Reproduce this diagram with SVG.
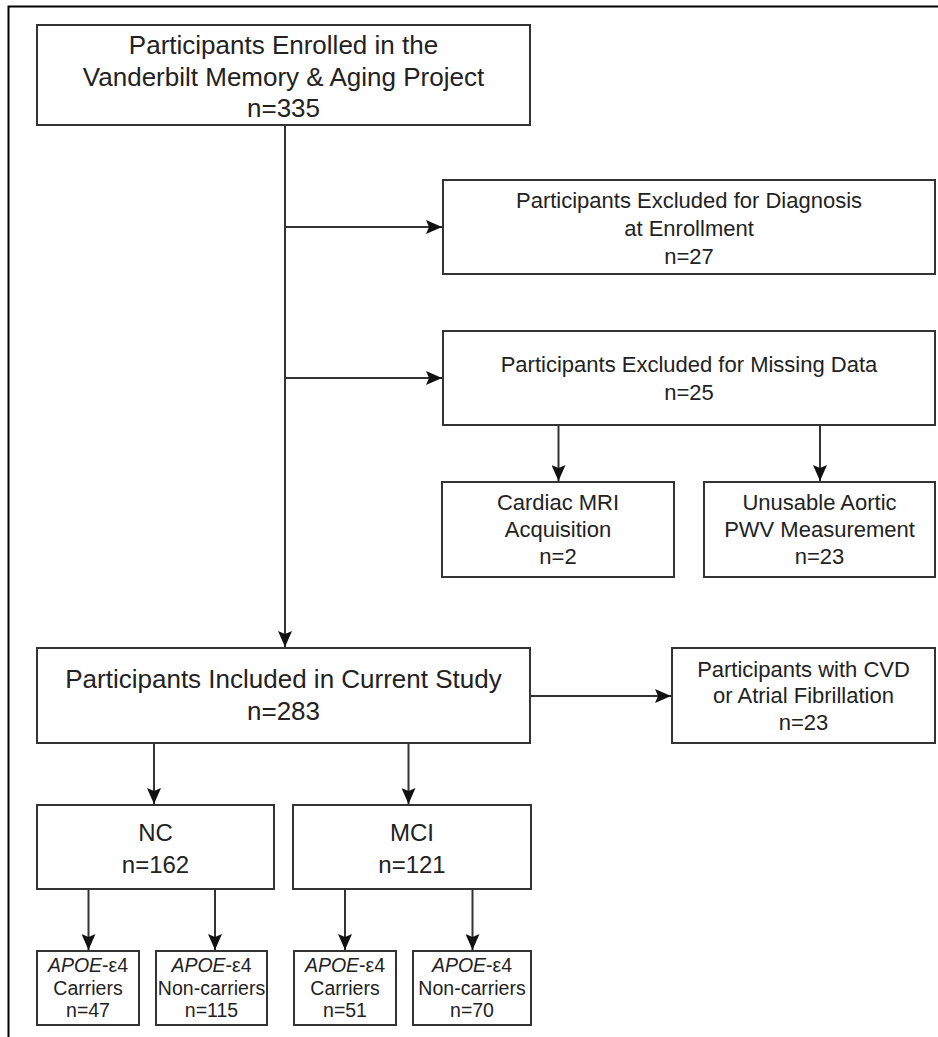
<svg xmlns="http://www.w3.org/2000/svg" width="938" height="1037" viewBox="0 0 938 1037">
<style>
.box{fill:#fff;stroke:#333;stroke-width:2}
.ln{fill:none;stroke:#333;stroke-width:2}
text{font-family:"Liberation Sans",Arial,sans-serif;fill:#222;text-anchor:middle}
.t26{font-size:26px}
.t24{font-size:24px}
.t22{font-size:22px}
.t19{font-size:19.5px}
</style>
<defs>
<marker id="ah" markerUnits="userSpaceOnUse" markerWidth="16" markerHeight="14" refX="16" refY="7" orient="auto">
<path d="M0,0 L16,7 L0,14 L3,7 z" fill="#111"/>
</marker>
</defs>
<rect width="938" height="1037" fill="#fff"/>
<path d="M8.5,1037 V6.5 H938" fill="none" stroke="#000" stroke-width="2"/>
<g id="connectors">
<path class="ln" d="M285,125 V647" marker-end="url(#ah)"/>
<path class="ln" d="M285,227 H442" marker-end="url(#ah)"/>
<path class="ln" d="M285,378 H442" marker-end="url(#ah)"/>
<path class="ln" d="M558.5,425 V481" marker-end="url(#ah)"/>
<path class="ln" d="M820,425 V481" marker-end="url(#ah)"/>
<path class="ln" d="M530,696 H671" marker-end="url(#ah)"/>
<path class="ln" d="M154,743 V804" marker-end="url(#ah)"/>
<path class="ln" d="M408.5,743 V804" marker-end="url(#ah)"/>
<path class="ln" d="M88.5,889 V950" marker-end="url(#ah)"/>
<path class="ln" d="M215,889 V950" marker-end="url(#ah)"/>
<path class="ln" d="M345,889 V950" marker-end="url(#ah)"/>
<path class="ln" d="M472.5,889 V950" marker-end="url(#ah)"/>
</g>
<g id="enrolled">
<rect class="box" x="37" y="25" width="493" height="100"/>
<text class="t26" x="283.5" y="54">Participants Enrolled in the</text>
<text class="t26" x="283.5" y="86">Vanderbilt Memory &amp; Aging Project</text>
<text class="t26" x="283.5" y="117">n=335</text>
</g>
<g id="excl-diagnosis">
<rect class="box" x="443" y="180" width="492" height="94"/>
<text class="t22" x="689" y="208">Participants Excluded for Diagnosis</text>
<text class="t22" x="689" y="236">at Enrollment</text>
<text class="t22" x="689" y="264">n=27</text>
</g>
<g id="excl-missing">
<rect class="box" x="443" y="331" width="492" height="94"/>
<text class="t22" x="689" y="372">Participants Excluded for Missing Data</text>
<text class="t22" x="689" y="400">n=25</text>
</g>
<g id="cardiac">
<rect class="box" x="442" y="482" width="232" height="95"/>
<text class="t22" x="558" y="510">Cardiac MRI</text>
<text class="t22" x="558" y="537">Acquisition</text>
<text class="t22" x="558" y="564">n=2</text>
</g>
<g id="unusable">
<rect class="box" x="704" y="482" width="231" height="95"/>
<text class="t22" x="819.5" y="510">Unusable Aortic</text>
<text class="t22" x="819.5" y="537">PWV Measurement</text>
<text class="t22" x="819.5" y="564">n=23</text>
</g>
<g id="included">
<rect class="box" x="37" y="648" width="493" height="95"/>
<text class="t26" x="283.5" y="688">Participants Included in Current Study</text>
<text class="t26" x="283.5" y="720">n=283</text>
</g>
<g id="cvd">
<rect class="box" x="672" y="648" width="263" height="95"/>
<text class="t22" x="803.5" y="677">Participants with CVD</text>
<text class="t22" x="803.5" y="703">or Atrial Fibrillation</text>
<text class="t22" x="803.5" y="730">n=23</text>
</g>
<g id="nc">
<rect class="box" x="37" y="805" width="237" height="84"/>
<text class="t24" x="155.5" y="841">NC</text>
<text class="t24" x="155.5" y="873">n=162</text>
</g>
<g id="mci">
<rect class="box" x="293" y="805" width="238" height="84"/>
<text class="t24" x="412" y="841">MCI</text>
<text class="t24" x="412" y="873">n=121</text>
</g>
<g id="nc-carriers">
<rect class="box" x="37" y="951" width="102" height="74"/>
<text class="t19" x="88" y="972"><tspan font-style="italic">APOE</tspan>-ε4</text>
<text class="t19" x="88" y="995">Carriers</text>
<text class="t19" x="88" y="1017">n=47</text>
</g>
<g id="nc-noncarriers">
<rect class="box" x="156" y="951" width="111" height="74"/>
<text class="t19" x="211.5" y="972"><tspan font-style="italic">APOE</tspan>-ε4</text>
<text class="t19" x="211.5" y="995">Non-carriers</text>
<text class="t19" x="211.5" y="1017">n=115</text>
</g>
<g id="mci-carriers">
<rect class="box" x="294" y="951" width="102" height="74"/>
<text class="t19" x="345" y="972"><tspan font-style="italic">APOE</tspan>-ε4</text>
<text class="t19" x="345" y="995">Carriers</text>
<text class="t19" x="345" y="1017">n=51</text>
</g>
<g id="mci-noncarriers">
<rect class="box" x="413" y="951" width="118" height="74"/>
<text class="t19" x="472" y="972"><tspan font-style="italic">APOE</tspan>-ε4</text>
<text class="t19" x="472" y="995">Non-carriers</text>
<text class="t19" x="472" y="1017">n=70</text>
</g>
</svg>
